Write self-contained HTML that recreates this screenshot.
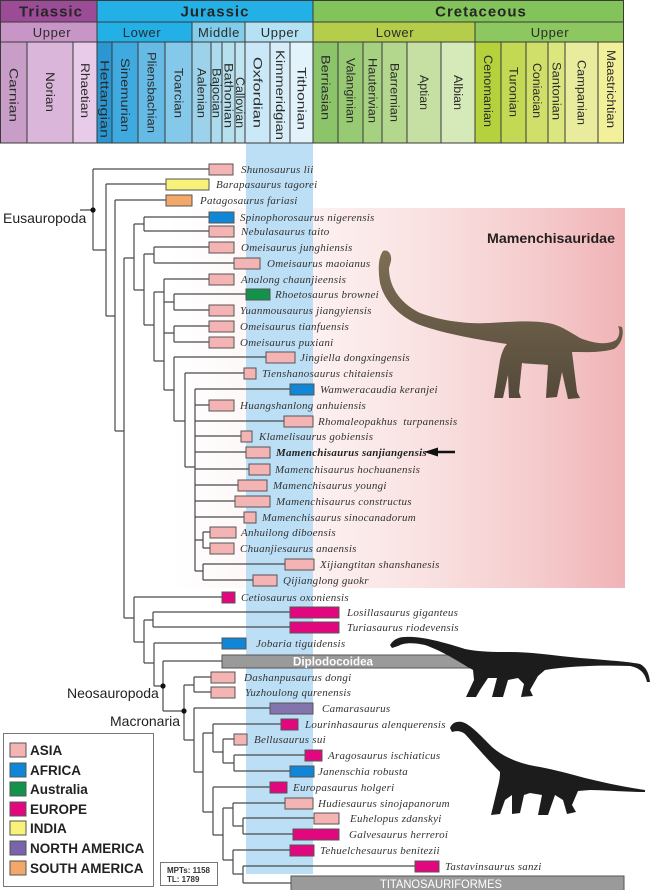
<!DOCTYPE html>
<html><head><meta charset="utf-8"><style>
html,body{margin:0;padding:0;background:#fff;}
svg{display:block;}
.st{font-family:"Liberation Sans",sans-serif;font-size:11.5px;fill:#2b2b2b;}
.per{font-family:"Liberation Sans",sans-serif;font-size:15px;font-weight:bold;fill:#262626;letter-spacing:1px;}
.ep{font-family:"Liberation Sans",sans-serif;font-size:13px;fill:#2b2b2b;letter-spacing:0.6px;}
.tx{font-family:"Liberation Serif",serif;font-style:italic;font-size:11px;fill:#333;letter-spacing:0.25px;}
.cl{font-family:"Liberation Sans",sans-serif;font-size:14px;fill:#222;}
.lg{font-family:"Liberation Sans",sans-serif;font-size:13.5px;font-weight:bold;fill:#222;}
.tr{stroke:#4a4a4a;stroke-width:1.2;fill:none;}
.b{stroke:#555;stroke-width:1;}
</style></head><body>
<svg width="650" height="890" viewBox="0 0 650 890" xmlns="http://www.w3.org/2000/svg">
<defs>
<linearGradient id="pk" x1="0" y1="0" x2="1" y2="0">
<stop offset="0" stop-color="#ffffff"/>
<stop offset="0.3" stop-color="#fdf2f2"/>
<stop offset="0.58" stop-color="#f9e0e0"/>
<stop offset="0.8" stop-color="#f5cccd"/>
<stop offset="1" stop-color="#f0b3b6"/>
</linearGradient>
<linearGradient id="md" x1="0" y1="0" x2="0" y2="1">
<stop offset="0" stop-color="#7d6f55"/>
<stop offset="1" stop-color="#54493a"/>
</linearGradient>
</defs>
<rect x="0" y="0" width="650" height="890" fill="#fff"/>

<rect x="170" y="208" width="455" height="380" fill="url(#pk)"/>
<rect x="246" y="143" width="67" height="731" fill="#bddff5"/>

<rect x="0" y="0" width="97" height="22" fill="#9c4b97"/>
<rect x="97" y="0" width="216" height="22" fill="#22b0e6"/>
<rect x="313" y="0" width="311" height="22" fill="#82c35a"/>
<rect x="0" y="22" width="97" height="20" fill="#c896c6"/>
<rect x="97" y="22" width="95" height="20" fill="#22b0e6"/>
<rect x="192" y="22" width="53" height="20" fill="#82cdea"/>
<rect x="245" y="22" width="68" height="20" fill="#b4e1f4"/>
<rect x="313" y="22" width="162" height="20" fill="#b4cd4b"/>
<rect x="475" y="22" width="149" height="20" fill="#8cc85f"/>
<g>
<rect x="0" y="42" width="27" height="101" fill="#c89dc8"/>
<rect x="27" y="42" width="46" height="101" fill="#dab6da"/>
<rect x="73" y="42" width="24" height="101" fill="#e8cbe8"/>
<rect x="97" y="42" width="15" height="101" fill="#2a96d2"/>
<rect x="112" y="42" width="26" height="101" fill="#3eaae0"/>
<rect x="138" y="42" width="27" height="101" fill="#66bae6"/>
<rect x="165" y="42" width="27" height="101" fill="#84c8ea"/>
<rect x="192" y="42" width="19" height="101" fill="#9cd3eb"/>
<rect x="211" y="42" width="11" height="101" fill="#abdbec"/>
<rect x="222" y="42" width="13" height="101" fill="#b6e0ee"/>
<rect x="235" y="42" width="10" height="101" fill="#c1e5f0"/>
<rect x="245" y="42" width="25" height="101" fill="#cae8f7"/>
<rect x="270" y="42" width="20" height="101" fill="#d7eef9"/>
<rect x="290" y="42" width="23" height="101" fill="#e3f3fb"/>
<rect x="313" y="42" width="25" height="101" fill="#8cc46a"/>
<rect x="338" y="42" width="25" height="101" fill="#98ca74"/>
<rect x="363" y="42" width="19" height="101" fill="#a5d180"/>
<rect x="382" y="42" width="25" height="101" fill="#b3d78c"/>
<rect x="407" y="42" width="34" height="101" fill="#c5e0a2"/>
<rect x="441" y="42" width="34" height="101" fill="#d6e9b8"/>
<rect x="475" y="42" width="26" height="101" fill="#b5d23d"/>
<rect x="501" y="42" width="25" height="101" fill="#c3d953"/>
<rect x="526" y="42" width="22" height="101" fill="#d0df6a"/>
<rect x="548" y="42" width="17" height="101" fill="#dce67f"/>
<rect x="565" y="42" width="33" height="101" fill="#e8ec9c"/>
<rect x="598" y="42" width="26" height="101" fill="#f3f09a"/>
</g>
<g stroke="#3a3a3a" stroke-width="1" fill="none">
<rect x="0.5" y="0.5" width="623" height="142.5"/>
<line x1="0" y1="22" x2="624" y2="22"/>
<line x1="0" y1="42" x2="624" y2="42"/>
<line x1="97" y1="0" x2="97" y2="143"/>
<line x1="313" y1="0" x2="313" y2="143"/>
<line x1="192" y1="22" x2="192" y2="143"/>
<line x1="245" y1="22" x2="245" y2="143"/>
<line x1="475" y1="22" x2="475" y2="143"/>
<line x1="27" y1="42" x2="27" y2="143"/>
<line x1="73" y1="42" x2="73" y2="143"/>
<line x1="112" y1="42" x2="112" y2="143"/>
<line x1="138" y1="42" x2="138" y2="143"/>
<line x1="165" y1="42" x2="165" y2="143"/>
<line x1="211" y1="42" x2="211" y2="143"/>
<line x1="222" y1="42" x2="222" y2="143"/>
<line x1="235" y1="42" x2="235" y2="143"/>
<line x1="270" y1="42" x2="270" y2="143"/>
<line x1="290" y1="42" x2="290" y2="143"/>
<line x1="338" y1="42" x2="338" y2="143"/>
<line x1="363" y1="42" x2="363" y2="143"/>
<line x1="382" y1="42" x2="382" y2="143"/>
<line x1="407" y1="42" x2="407" y2="143"/>
<line x1="441" y1="42" x2="441" y2="143"/>
<line x1="501" y1="42" x2="501" y2="143"/>
<line x1="526" y1="42" x2="526" y2="143"/>
<line x1="548" y1="42" x2="548" y2="143"/>
<line x1="565" y1="42" x2="565" y2="143"/>
<line x1="598" y1="42" x2="598" y2="143"/>
</g>
<text class="per" x="51" y="16.5" text-anchor="middle">Triassic</text>
<text class="per" x="215" y="16.5" text-anchor="middle">Jurassic</text>
<text class="per" x="481" y="16.5" text-anchor="middle">Cretaceous</text>
<text class="ep" x="52" y="37" text-anchor="middle">Upper</text>
<text class="ep" x="142" y="37" text-anchor="middle">Lower</text>
<text class="ep" x="219" y="37" text-anchor="middle">Middle</text>
<text class="ep" x="280" y="37" text-anchor="middle">Upper</text>
<text class="ep" x="395" y="37" text-anchor="middle">Lower</text>
<text class="ep" x="550" y="37" text-anchor="middle">Upper</text>
<g class="st">
<text transform="translate(13.5,68) rotate(90)" dy="4" textLength="54" lengthAdjust="spacingAndGlyphs">Carnian</text>
<text transform="translate(50,72) rotate(90)" dy="4" textLength="40" lengthAdjust="spacingAndGlyphs">Norian</text>
<text transform="translate(85,63) rotate(90)" dy="4" textLength="55" lengthAdjust="spacingAndGlyphs">Rhaetian</text>
<text transform="translate(104.5,60) rotate(90)" dy="4" textLength="78" lengthAdjust="spacingAndGlyphs">Hettangian</text>
<text transform="translate(125,58) rotate(90)" dy="4" textLength="74" lengthAdjust="spacingAndGlyphs">Sinemurian</text>
<text transform="translate(151.5,52) rotate(90)" dy="4" textLength="81" lengthAdjust="spacingAndGlyphs">Pliensbachian</text>
<text transform="translate(178.5,68) rotate(90)" dy="4" textLength="50" lengthAdjust="spacingAndGlyphs">Toarcian</text>
<text transform="translate(201.5,68) rotate(90)" dy="4" textLength="50" lengthAdjust="spacingAndGlyphs">Aalenian</text>
<text transform="translate(216.5,68) rotate(90)" dy="4" textLength="50" lengthAdjust="spacingAndGlyphs">Bajocian</text>
<text transform="translate(228.5,63) rotate(90)" dy="4" textLength="65" lengthAdjust="spacingAndGlyphs">Bathonian</text>
<text transform="translate(240,77) rotate(90)" dy="4" textLength="51" lengthAdjust="spacingAndGlyphs">Callovian</text>
<text transform="translate(257.5,57) rotate(90)" dy="4" textLength="71" lengthAdjust="spacingAndGlyphs">Oxfordian</text>
<text transform="translate(280,50) rotate(90)" dy="4" textLength="90" lengthAdjust="spacingAndGlyphs">Kimmeridgian</text>
<text transform="translate(301.5,67) rotate(90)" dy="4" textLength="63" lengthAdjust="spacingAndGlyphs">Tithonian</text>
<text transform="translate(325.5,55) rotate(90)" dy="4" textLength="65" lengthAdjust="spacingAndGlyphs">Berriasian</text>
<text transform="translate(350.5,58) rotate(90)" dy="4" textLength="65" lengthAdjust="spacingAndGlyphs">Valanginian</text>
<text transform="translate(372.5,58) rotate(90)" dy="4" textLength="65" lengthAdjust="spacingAndGlyphs">Hauterivian</text>
<text transform="translate(394.5,63) rotate(90)" dy="4" textLength="59" lengthAdjust="spacingAndGlyphs">Barremian</text>
<text transform="translate(424,75) rotate(90)" dy="4" textLength="35" lengthAdjust="spacingAndGlyphs">Aptian</text>
<text transform="translate(458,75) rotate(90)" dy="4" textLength="35" lengthAdjust="spacingAndGlyphs">Albian</text>
<text transform="translate(488,55) rotate(90)" dy="4" textLength="72" lengthAdjust="spacingAndGlyphs">Cenomanian</text>
<text transform="translate(513.5,67) rotate(90)" dy="4" textLength="50" lengthAdjust="spacingAndGlyphs">Turonian</text>
<text transform="translate(537,63) rotate(90)" dy="4" textLength="55" lengthAdjust="spacingAndGlyphs">Coniacian</text>
<text transform="translate(556.5,62) rotate(90)" dy="4" textLength="58" lengthAdjust="spacingAndGlyphs">Santonian</text>
<text transform="translate(581.5,60) rotate(90)" dy="4" textLength="65" lengthAdjust="spacingAndGlyphs">Campanian</text>
<text transform="translate(611,50) rotate(90)" dy="4" textLength="78" lengthAdjust="spacingAndGlyphs">Maastrichtian</text>
</g>

<text x="487" y="243" font-family="Liberation Sans, sans-serif" font-size="14" font-weight="bold" fill="#231f20" textLength="128" lengthAdjust="spacingAndGlyphs">Mamenchisauridae</text>
<path fill="url(#md)" d="M383,251 C388,249 392,254 391,261 L389,268 C389,285 398,302 420,313 C445,322 470,324 490,323 C510,322 530,320 548,323 C560,325 568,331 580,338 C595,344 608,345 616,340 C620,336 620,330 618,326 L622,327 C624,334 622,344 614,349 C600,353 585,352 572,352 L577,392 L580,398 L568,399 L562,372 L557,397 L546,398 L548,365 C538,364 528,364 522,363 L519,392 L521,398 L509,398 L508,375 L503,398 L494,398 L500,360 C502,352 504,347 507,344 C480,340 445,334 420,325 C398,316 384,300 380,283 C378,270 378,258 383,251 Z"/>

<path class="tr" d="
M80,210 H93
M93,169 V250 M93,169 H209 M93,250 H106
M106,184 V316 M106,184 H166 M106,316 H115
M115,200 V431 M115,200 H166 M115,431 H124
M124,258 V618 M124,258 H134 M124,618 H134
M134,224 V290 M134,224 H144 M134,290 H144
M144,217 V231 M144,217 H209 M144,231 H209
M144,254 V325 M144,254 H154 M144,325 H154
M154,247 V263 M154,247 H209 M154,263 H234
M154,292 V361 M154,292 H164 M154,361 H164
M164,279 V390 M164,279 H209 M164,302 H174 M164,333 H174 M164,390 H174
M174,294 V310 M174,294 H246 M174,310 H209
M174,326 V342 M174,326 H209 M174,342 H209
M174,357 V421 M174,357 H266 M174,421 H185
M185,373 V467 M185,373 H244 M185,467 H195
M195,389 V571 M195,389 H290 M195,405 H209 M195,421 H284 M195,436 H241 M195,452 H246 M195,469 H249 M195,485 H238 M195,501 H235 M195,517 H244 M195,540 H203 M195,571 H203
M203,532 V548 M203,532 H210 M203,548 H210
M203,564 V580 M203,564 H285 M203,580 H253
M134,597 V642 M134,597 H222 M134,642 H144
M144,620 V663 M144,620 H153 M144,663 H154
M153,612 V627 M153,612 H290 M153,627 H290
M154,643 V686 M154,643 H222 M154,686 H163
M163,661 V711 M163,661 H222 M163,711 H184
M184,685 V740 M184,685 H194 M184,740 H194
M194,677 V692 M194,677 H211 M194,692 H211
M194,708 V772 M194,708 H270 M194,772 H203
M203,733 V812 M203,733 H213 M203,812 H213
M213,724 V752 M213,724 H281 M213,752 H223
M223,739 V763 M223,739 H234 M223,763 H234
M234,755 V771 M234,755 H305 M234,771 H290
M213,787 V835 M213,787 H270 M213,835 H223
M223,808 V860 M223,808 H233 M223,860 H233
M233,803 V826 M233,803 H285 M233,826 H243
M243,818 V834 M243,818 H314 M243,834 H293
M233,850 V874 M233,850 H290 M233,874 H243
M243,866 V883 M243,866 H415 M243,883 H291
"/>
<circle cx="93" cy="210" r="2.6" fill="#111"/>
<circle cx="163" cy="686" r="2.6" fill="#111"/>
<circle cx="184" cy="711" r="2.6" fill="#111"/>

<g class="b">
<rect x="209" y="164" width="24" height="11" fill="#f4b4b4"/>
<rect x="166" y="179" width="43" height="11" fill="#f8f27a"/>
<rect x="166" y="195" width="26" height="11" fill="#f2a868"/>
<rect x="209" y="212" width="25" height="11" fill="#0f86d6"/>
<rect x="209" y="226" width="25" height="11" fill="#f4b4b4"/>
<rect x="209" y="242" width="25" height="11" fill="#f4b4b4"/>
<rect x="234" y="258" width="26" height="11" fill="#f4b4b4"/>
<rect x="209" y="274" width="25" height="11" fill="#f4b4b4"/>
<rect x="246" y="289" width="24" height="11" fill="#12924a"/>
<rect x="209" y="305" width="25" height="11" fill="#f4b4b4"/>
<rect x="209" y="321" width="25" height="11" fill="#f4b4b4"/>
<rect x="209" y="337" width="25" height="11" fill="#f4b4b4"/>
<rect x="266" y="352" width="29" height="11" fill="#f4b4b4"/>
<rect x="244" y="368" width="12" height="11" fill="#f4b4b4"/>
<rect x="290" y="384" width="24" height="11" fill="#0f86d6"/>
<rect x="209" y="400" width="25" height="11" fill="#f4b4b4"/>
<rect x="284" y="416" width="29" height="11" fill="#f4b4b4"/>
<rect x="241" y="431" width="11" height="11" fill="#f4b4b4"/>
<rect x="246" y="447" width="24" height="11" fill="#f4b4b4"/>
<rect x="249" y="464" width="21" height="11" fill="#f4b4b4"/>
<rect x="238" y="480" width="29" height="11" fill="#f4b4b4"/>
<rect x="235" y="496" width="35" height="11" fill="#f4b4b4"/>
<rect x="244" y="512" width="12" height="11" fill="#f4b4b4"/>
<rect x="210" y="527" width="26" height="11" fill="#f4b4b4"/>
<rect x="210" y="543" width="24" height="11" fill="#f4b4b4"/>
<rect x="285" y="559" width="29" height="11" fill="#f4b4b4"/>
<rect x="253" y="575" width="24" height="11" fill="#f4b4b4"/>
<rect x="222" y="592" width="13" height="11" fill="#e2067f"/>
<rect x="290" y="607" width="49" height="11" fill="#e2067f"/>
<rect x="290" y="622" width="49" height="11" fill="#e2067f"/>
<rect x="222" y="638" width="24" height="11" fill="#0f86d6"/>
<rect x="222" y="655" width="258" height="13" fill="#9a9a9a"/>
<rect x="211" y="672" width="24" height="11" fill="#f4b4b4"/>
<rect x="211" y="687" width="24" height="11" fill="#f4b4b4"/>
<rect x="270" y="703" width="43" height="11" fill="#8474ad"/>
<rect x="281" y="719" width="17" height="11" fill="#e2067f"/>
<rect x="234" y="734" width="13" height="11" fill="#f4b4b4"/>
<rect x="305" y="750" width="17" height="11" fill="#e2067f"/>
<rect x="290" y="766" width="24" height="11" fill="#0f86d6"/>
<rect x="270" y="782" width="17" height="11" fill="#e2067f"/>
<rect x="285" y="798" width="28" height="11" fill="#f4b4b4"/>
<rect x="314" y="813" width="25" height="11" fill="#f4b4b4"/>
<rect x="293" y="829" width="46" height="11" fill="#e2067f"/>
<rect x="290" y="845" width="24" height="11" fill="#e2067f"/>
<rect x="415" y="861" width="24" height="11" fill="#e2067f"/>
<rect x="291" y="876" width="333" height="15" fill="#9a9a9a"/>
</g>
<text x="293" y="665.5" font-family="Liberation Sans, sans-serif" font-size="11.5" font-weight="bold" fill="#fff" textLength="80" lengthAdjust="spacingAndGlyphs">Diplodocoidea</text>
<text x="380" y="888" font-family="Liberation Sans, sans-serif" font-size="12" fill="#fff" textLength="122" lengthAdjust="spacingAndGlyphs">TITANOSAURIFORMES</text>

<g class="tx">
<text x="241" y="173">Shunosaurus lii</text>
<text x="216" y="188">Barapasaurus tagorei</text>
<text x="200" y="204">Patagosaurus fariasi</text>
<text x="240" y="221">Spinophorosaurus nigerensis</text>
<text x="241" y="235">Nebulasaurus taito</text>
<text x="241" y="251">Omeisaurus junghiensis</text>
<text x="267" y="267">Omeisaurus maoianus</text>
<text x="241" y="283">Analong chaunjieensis</text>
<text x="275" y="298">Rhoetosaurus brownei</text>
<text x="240" y="314">Yuanmousaurus jiangyiensis</text>
<text x="240" y="330">Omeisaurus tianfuensis</text>
<text x="240" y="346">Omeisaurus puxiani</text>
<text x="300" y="361">Jingiella dongxingensis</text>
<text x="262" y="377">Tienshanosaurus chitaiensis</text>
<text x="320" y="393">Wamweracaudia keranjei</text>
<text x="240" y="409">Huangshanlong anhuiensis</text>
<text x="318" y="425" xml:space="preserve">Rhomaleopakhus  turpanensis</text>
<text x="259" y="440">Klamelisaurus gobiensis</text>
<text x="276" y="456" font-weight="bold" fill="#222">Mamenchisaurus sanjiangensis</text>
<text x="275" y="473">Mamenchisaurus hochuanensis</text>
<text x="273" y="489">Mamenchisaurus youngi</text>
<text x="276" y="505">Mamenchisaurus constructus</text>
<text x="262" y="521">Mamenchisaurus sinocanadorum</text>
<text x="241" y="536">Anhuilong diboensis</text>
<text x="240" y="552">Chuanjiesaurus anaensis</text>
<text x="320" y="568">Xijiangtitan shanshanesis</text>
<text x="283" y="584">Qijianglong guokr</text>
<text x="241" y="601">Cetiosaurus oxoniensis</text>
<text x="347" y="616">Losillasaurus giganteus</text>
<text x="347" y="631">Turiasaurus riodevensis</text>
<text x="256" y="647">Jobaria tiguidensis</text>
<text x="244" y="681">Dashanpusaurus dongi</text>
<text x="245" y="696">Yuzhoulong qurenensis</text>
<text x="322" y="712">Camarasaurus</text>
<text x="305" y="728">Lourinhasaurus alenquerensis</text>
<text x="254" y="743">Bellusaurus sui</text>
<text x="328" y="759">Aragosaurus ischiaticus</text>
<text x="318" y="775">Janenschia robusta</text>
<text x="293" y="791">Europasaurus holgeri</text>
<text x="318" y="807">Hudiesaurus sinojapanorum</text>
<text x="350" y="822">Euhelopus zdanskyi</text>
<text x="349" y="838">Galvesaurus herreroi</text>
<text x="320" y="854">Tehuelchesaurus benitezii</text>
<text x="445" y="870">Tastavinsaurus sanzi</text>
</g>

<line x1="435" y1="452" x2="455" y2="452" stroke="#111" stroke-width="2.5"/>
<polygon points="424,452 438,447.5 438,456.5" fill="#111"/>

<text class="cl" x="3" y="223">Eusauropoda</text>
<text class="cl" x="67" y="698">Neosauropoda</text>
<text class="cl" x="110" y="726">Macronaria</text>

<path fill="#1c1c1c" d="M390,645 C393,640 398,637 405,637 C420,636 440,641 465,649 C480,652 495,652 510,652 C530,652 550,655 570,657 C600,660 625,661 640,664 C646,667 649,673 650,682 L647,682 C645,673 640,668 630,666 C600,665 570,666 545,670 L538,676 L530,690 L533,696 L521,697 L524,684 L518,678 L508,680 L503,697 L492,697 L497,678 L488,678 L480,690 L476,697 L466,697 L474,680 L473,670 C462,664 445,652 425,645 C412,642 403,643 398,646 L392,648 Z"/>
<path fill="#1c1c1c" d="M450,728 C452,723 456,721 462,722 C470,724 480,735 492,747 C505,758 520,764 540,767 C555,770 567,773 585,778 C605,783 625,787 645,790 L645,792 C625,792 605,790 590,790 L578,791 L572,805 L576,812 L567,814 L563,800 L555,795 L548,815 L538,815 L542,795 L530,793 L524,795 L520,813 L512,814 L512,795 L505,800 L500,814 L491,815 L497,790 C500,780 500,775 500,772 C488,760 475,745 465,734 C460,730 455,731 452,732 Z"/>

<rect x="3.5" y="733.5" width="150" height="153" fill="#fff" stroke="#777" stroke-width="1"/>
<g class="b">
<rect x="10" y="743" width="16" height="14" fill="#f4b4b4"/>
<rect x="10" y="763" width="16" height="14" fill="#0f86d6"/>
<rect x="10" y="782" width="16" height="14" fill="#12924a"/>
<rect x="10" y="802" width="16" height="14" fill="#e2067f"/>
<rect x="10" y="821" width="16" height="14" fill="#f8f27a"/>
<rect x="10" y="841" width="16" height="14" fill="#7864aa"/>
<rect x="10" y="861" width="16" height="14" fill="#f2a868"/>
</g>
<g class="lg">
<text x="30" y="755">ASIA</text>
<text x="30" y="775">AFRICA</text>
<text x="30" y="794">Australia</text>
<text x="30" y="814">EUROPE</text>
<text x="30" y="833">INDIA</text>
<text x="30" y="853">NORTH AMERICA</text>
<text x="30" y="873">SOUTH AMERICA</text>
</g>
<rect x="160.5" y="862.5" width="57" height="23" fill="#fff" stroke="#777" stroke-width="1"/>
<text x="167" y="873" font-family="Liberation Sans, sans-serif" font-size="8" font-weight="bold" fill="#333">MPTs: 1158</text>
<text x="167" y="882" font-family="Liberation Sans, sans-serif" font-size="8" font-weight="bold" fill="#333">TL: 1789</text>
</svg>
</body></html>
